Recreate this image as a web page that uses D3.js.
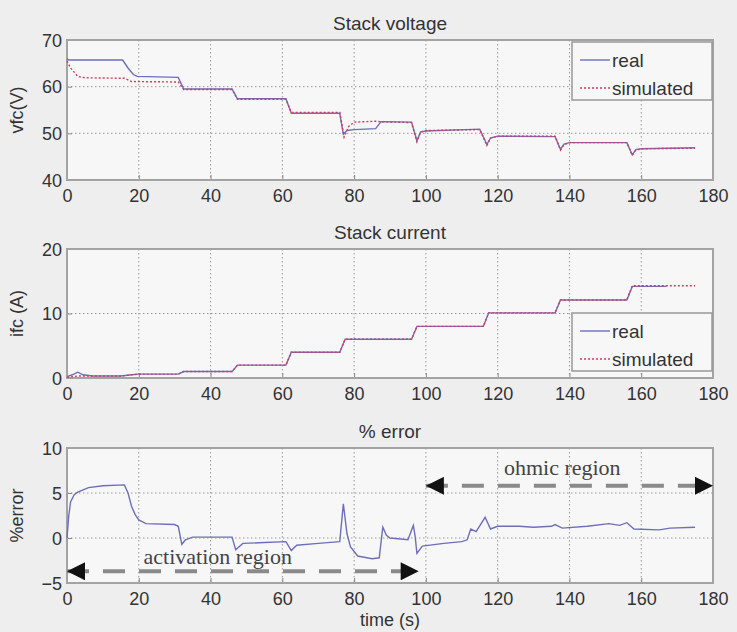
<!DOCTYPE html>
<html>
<head>
<meta charset="utf-8">
<script src="https://cdn.jsdelivr.net/npm/d3@7"></script>
<style>
  html, body { margin: 0; padding: 0; background: #eeeeee; }
  svg { display: block; }
  text { font-family: "Liberation Sans", Arial, sans-serif; fill: #333; }
  text.serif { font-family: "Liberation Serif", "Times New Roman", serif; }
</style>
</head>
<body>
<svg id="chart" width="737" height="632"></svg>
<script>
// Shared time axis
const timeTicks = [0, 20, 40, 60, 80, 100, 120, 140, 160, 180];

// Stack voltage (V): [time s, value]
const voltageReal = [[0,66],[0.5,65.7],[15.5,65.7],[17,64],[18.5,62.6],[19.5,62.2],[31,62],[32.5,59.5],[46,59.5],[47.5,57.4],[61,57.4],[62.5,54.3],[76,54.3],[77,49.8],[78,50.6],[80,50.8],[86,51],[87.5,52.5],[96,52.4],[97.5,48.4],[98.5,50.3],[100,50.5],[115,50.9],[117,47.6],[118,49],[120,49.4],[136,49.3],[137.5,46.6],[138.5,47.7],[140,48],[156,48],[157.5,45.4],[158.5,46.5],[160,46.7],[175,46.9]];
const voltageSim = [[0,65.5],[1,64],[3,62.2],[5,61.9],[16,61.8],[18,61.1],[31,61],[32.5,59.4],[46,59.4],[47.5,57.3],[61,57.3],[62.5,54.5],[76,54.5],[77.2,49.2],[78.5,51.5],[80,52.4],[86,52.6],[87.5,52.5],[96,52.3],[97.5,48.2],[98.5,50.2],[100,50.6],[115,50.8],[117,47.4],[118,49],[120,49.4],[136,49.4],[137.5,46.4],[138.5,47.6],[140,48],[156,48],[157.5,45.3],[158.5,46.4],[160,46.7],[175,46.8]];
const voltageTicks = [40, 50, 60, 70];

// Stack current (A)
const currentReal = [[0,0.2],[1.5,0.5],[3,0.9],[4.5,0.5],[7,0.3],[15,0.3],[18,0.5],[20,0.6],[31,0.6],[32.5,1.0],[46,1.0],[47.5,2.0],[61,2.0],[62.5,4.0],[76,4.0],[77.5,6.0],[96,6.0],[97.5,8.0],[116,8.0],[117.5,10.1],[136,10.1],[137.5,12.1],[156,12.1],[157.5,14.2],[167,14.2]];
const currentSim = [[0,0.1],[3,0.3],[15,0.3],[18,0.5],[20,0.6],[31,0.6],[32.5,1.0],[46,1.0],[47.5,2.0],[61,2.0],[62.5,4.0],[76,4.0],[77.5,6.0],[96,6.0],[97.5,8.0],[116,8.0],[117.5,10.1],[136,10.1],[137.5,12.1],[156,12.1],[157.5,14.3],[175,14.3]];
const currentTicks = [0, 10, 20];

// Percentage error between real and simulated voltage
const errorPct = [[0,0],[0.5,2.5],[1,4],[2,4.8],[3,5.1],[6,5.6],[10,5.8],[16,5.9],[17,5],[18,3.5],[19,2.6],[20,2],[22,1.6],[30,1.5],[31,1.3],[32,-0.7],[33,-0.2],[35,0.1],[46,0.1],[47,-1.3],[49,-0.6],[55,-0.5],[61,-0.4],[62.5,-1.4],[64,-0.8],[70,-0.6],[76,-0.4],[77,3.8],[78,0.5],[79,-1.0],[81,-2.0],[85,-2.3],[87,-2.2],[88,1.2],[89,0.3],[90,0],[95,-0.2],[96.5,1.4],[97,0.2],[97.5,-1.7],[99,-0.9],[105,-0.6],[110,-0.4],[111.5,-0.2],[112.5,1.0],[114,0.7],[116.5,2.3],[118,1.0],[120,1.3],[126,1.3],[130,1.2],[135,1.3],[136,1.5],[138,1.1],[145,1.3],[151,1.6],[154,1.4],[156,1.7],[158,1.0],[165,0.9],[168,1.1],[175,1.2]];
const errorTicks = [-5, 0, 5, 10];

const legendNames = ["real", "simulated"];
const colReal = "#6e6fb8", colSim = "#d23c5e";

const svg = d3.select("#chart");
const x0 = 67, x1 = 713;

svg.append("defs").append("marker")
  .attr("id", "head").attr("viewBox", "0 0 10 10").attr("refX", 10).attr("refY", 5)
  .attr("markerUnits", "userSpaceOnUse").attr("markerWidth", 28).attr("markerHeight", 18)
  .attr("orient", "auto-start-reverse")
  .append("path").attr("d", "M0,0 L10,5 L0,10 Z").attr("fill", "#111");

function panel(cfg) {
  const x = d3.scaleLinear().domain([0, 180]).range([x0, x1]);
  const y = d3.scaleLinear().domain(cfg.domain).range([cfg.bottom, cfg.top]);
  const g = svg.append("g");

  g.append("rect").attr("x", x0).attr("y", cfg.top).attr("width", x1 - x0).attr("height", cfg.bottom - cfg.top)
    .attr("fill", "#f7f7f7");

  // dotted grid
  g.append("g").selectAll("line").data(timeTicks.slice(1, -1)).join("line")
    .attr("x1", d => x(d)).attr("x2", d => x(d)).attr("y1", cfg.top).attr("y2", cfg.bottom)
    .attr("stroke", "#999").attr("stroke-width", 1).attr("stroke-dasharray", "1.5,2.5");
  g.append("g").selectAll("line").data(cfg.ticks.slice(1, -1)).join("line")
    .attr("x1", x0).attr("x2", x1).attr("y1", d => y(d)).attr("y2", d => y(d))
    .attr("stroke", "#999").attr("stroke-width", 1).attr("stroke-dasharray", "1.5,2.5");

  // axes with labels
  const xa = g.append("g").attr("transform", `translate(0,${cfg.bottom})`)
    .call(d3.axisBottom(x).tickValues(timeTicks).tickSize(-5).tickPadding(5));
  const ya = g.append("g").attr("transform", `translate(${x0},0)`)
    .call(d3.axisLeft(y).tickValues(cfg.ticks).tickSize(-5).tickPadding(5));
  [xa, ya].forEach(a => {
    a.select(".domain").remove();
    a.selectAll("line").attr("stroke", "#888");
    a.selectAll("text").attr("font-size", 18).attr("fill", "#333");
  });
  xa.selectAll("text").attr("dy", "0.95em");
  ya.selectAll("text").attr("dy", "0.35em");

  // frame
  g.append("rect").attr("x", x0).attr("y", cfg.top).attr("width", x1 - x0).attr("height", cfg.bottom - cfg.top)
    .attr("fill", "none").attr("stroke", "#a3a3a3").attr("stroke-width", 2);

  const line = d3.line().x(d => x(d[0])).y(d => y(d[1]));
  cfg.series.forEach(s => {
    g.append("path").datum(s.data).attr("d", line).attr("fill", "none")
      .attr("stroke", s.color).attr("stroke-width", 1.4)
      .attr("stroke-dasharray", s.dash || null);
  });

  g.append("text").attr("x", 390).attr("y", cfg.top - 10).attr("text-anchor", "middle")
    .attr("font-size", 19).text(cfg.title);
  g.append("text").attr("transform", `translate(23,${(cfg.top + cfg.bottom) / 2}) rotate(-90)`)
    .attr("text-anchor", "middle").attr("font-size", 18).text(cfg.ylabel);

  if (cfg.legend) {
    const L = cfg.legend;
    const lg = g.append("g");
    lg.append("rect").attr("x", L.x).attr("y", L.y).attr("width", 140).attr("height", 58)
      .attr("fill", "#f7f7f7").attr("stroke", "#999").attr("stroke-width", 1.5);
    legendNames.forEach((n, i) => {
      const s = cfg.series[i];
      const yy = L.y + 18 + i * 28;
      lg.append("line").attr("x1", L.x + 8).attr("x2", L.x + 38).attr("y1", yy).attr("y2", yy)
        .attr("stroke", s.color).attr("stroke-width", 1.4).attr("stroke-dasharray", s.dash || null);
      lg.append("text").attr("x", L.x + 40).attr("y", yy).attr("dy", "0.35em")
        .attr("font-size", 19).text(n);
    });
  }
  return { x, y, g };
}

panel({
  top: 40, bottom: 180, domain: [40, 70], ticks: voltageTicks,
  title: "Stack voltage", ylabel: "vfc(V)",
  series: [{ data: voltageReal, color: colReal }, { data: voltageSim, color: colSim, dash: "2,2" }],
  legend: { x: 572, y: 42 }
});

panel({
  top: 249, bottom: 378, domain: [0, 20], ticks: currentTicks,
  title: "Stack current", ylabel: "ifc (A)",
  series: [{ data: currentReal, color: colReal }, { data: currentSim, color: colSim, dash: "2,2" }],
  legend: { x: 572, y: 313 }
});

const p3 = panel({
  top: 448, bottom: 583, domain: [-5, 10], ticks: errorTicks,
  title: "% error", ylabel: "%error",
  series: [{ data: errorPct, color: colReal }]
});

svg.append("text").attr("x", 390).attr("y", 626).attr("text-anchor", "middle")
  .attr("font-size", 18).text("time (s)");

// region annotations: double-headed dashed arrows
function regionArrow(t0, t1, v, label, tLabel, vLabel) {
  const { x, y } = p3;
  svg.append("line").attr("x1", x(t0)).attr("x2", x(t1)).attr("y1", y(v)).attr("y2", y(v))
    .attr("stroke", "#8a8a8a").attr("stroke-width", 4).attr("stroke-dasharray", "22,14");
  svg.append("line").attr("x1", x(t0) + 27).attr("x2", x(t0)).attr("y1", y(v)).attr("y2", y(v))
    .attr("stroke", "none").attr("marker-end", "url(#head)");
  svg.append("line").attr("x1", x(t1) - 27).attr("x2", x(t1)).attr("y1", y(v)).attr("y2", y(v))
    .attr("stroke", "none").attr("marker-end", "url(#head)");
  svg.append("text").attr("class", "serif").attr("x", x(tLabel)).attr("y", y(vLabel))
    .attr("text-anchor", "middle").attr("font-size", 22)
    .style("fill", "#444").text(label);
}
regionArrow(0, 98, -3.7, "activation region", 42, -2.9);
regionArrow(100, 180, 5.8, "ohmic region", 138, 7.0);
</script>
</body>
</html>
